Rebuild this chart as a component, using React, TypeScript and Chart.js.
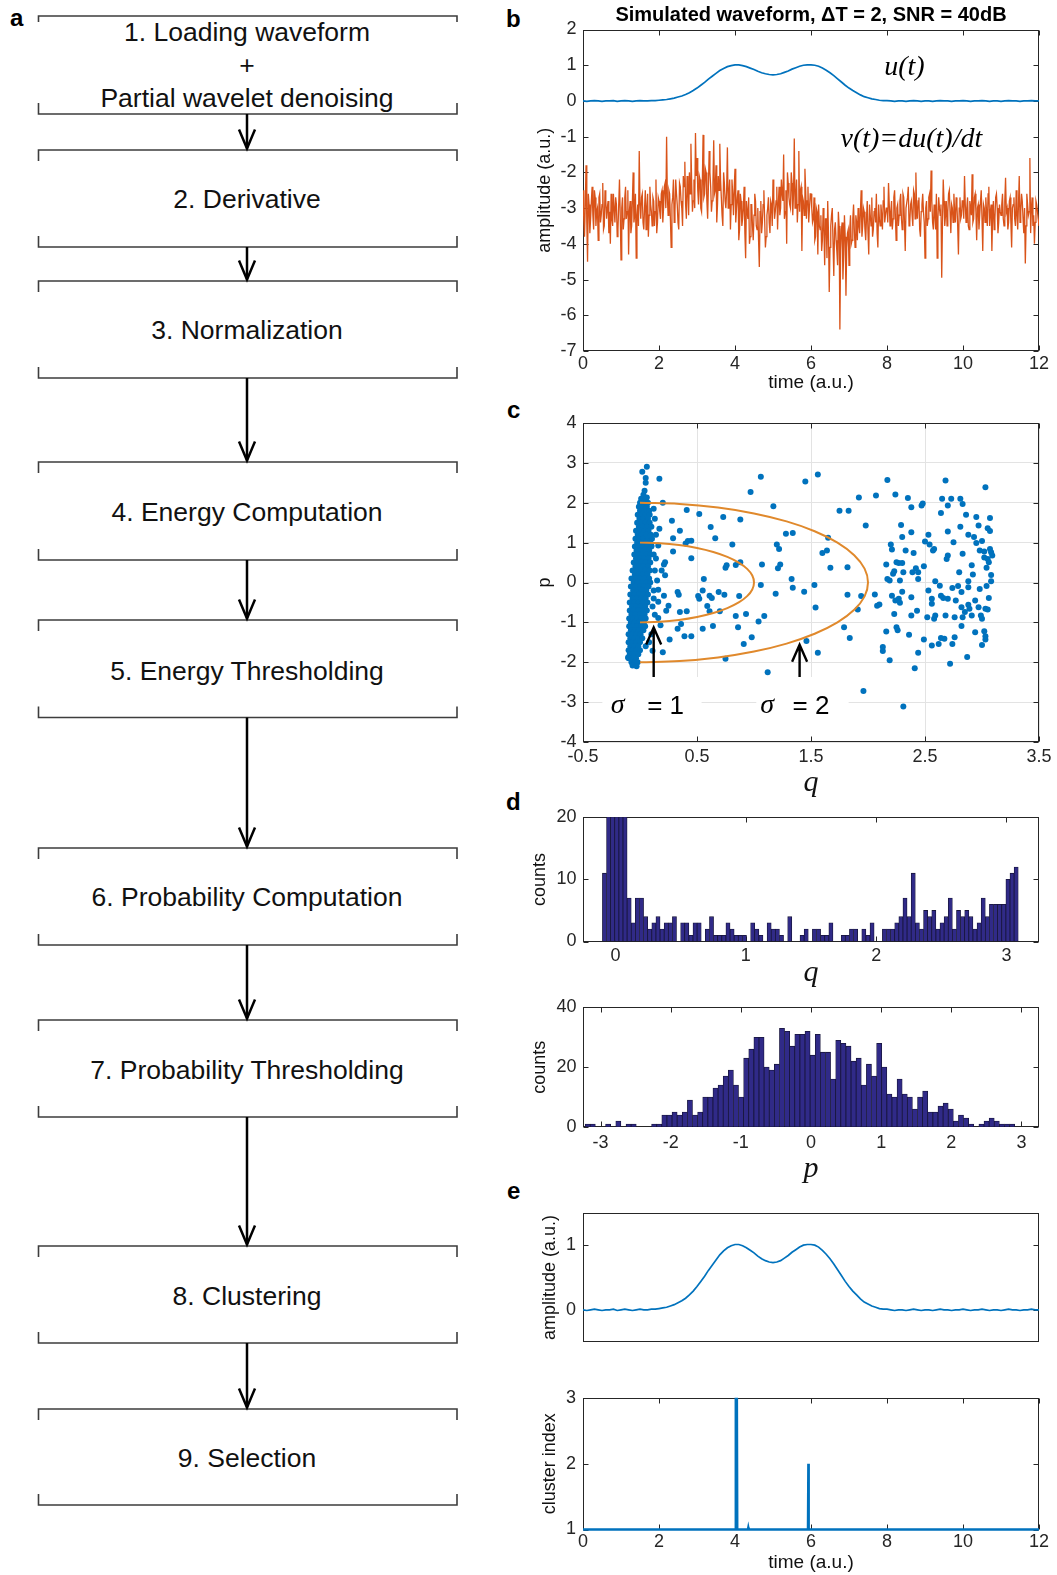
import React, { useEffect, useRef } from 'react';
import { Chart, registerables } from 'chart.js';

Chart.register(...registerables);

const SANS = "'Liberation Sans', Arial, Helvetica, sans-serif";
const SERIF = "'Liberation Serif', 'Times New Roman', serif";
const INK = '#262626';
const BLUE = '#0072BD';
const ORANGE = '#D95319';
const ELLIPSE = '#E0892C';
const BAR_FILL = '#302a88';
const BAR_EDGE = '#17153a';
const TICK_FONT = 18;

// ================= Panel b : waveform u(t) and v(t) =================
const U_DT = 0.1;
const uValues = [
  0.00, -0.01, 0.00, 0.01, 0.00, -0.01, 0.00, 0.00, 0.01, -0.01,
  0.00, 0.01, 0.00, -0.01, 0.00, 0.01, 0.00, 0.00, 0.01, 0.01,
  0.02, 0.03, 0.04, 0.06, 0.08, 0.11, 0.14, 0.18, 0.23, 0.29,
  0.36, 0.44, 0.52, 0.61, 0.69, 0.77, 0.85, 0.91, 0.96, 0.99,
  1.01, 1.01, 0.99, 0.96, 0.92, 0.88, 0.83, 0.79, 0.76, 0.74,
  0.73, 0.74, 0.76, 0.80, 0.84, 0.89, 0.93, 0.97, 1.00, 1.01,
  1.01, 1.00, 0.97, 0.92, 0.86, 0.79, 0.71, 0.62, 0.53, 0.44,
  0.36, 0.29, 0.23, 0.17, 0.12, 0.09, 0.06, 0.04, 0.02, 0.01,
  0.01, 0.00, -0.01, 0.00, 0.00, -0.01, 0.00, 0.01, 0.00, -0.01,
  0.00, 0.00, -0.01, 0.00, 0.01, 0.00, 0.00, -0.01, 0.00, 0.00,
  0.01, 0.00, -0.01, 0.00, 0.00, 0.01, 0.00, -0.01, 0.00, 0.00,
  -0.01, 0.00, 0.01, 0.00, 0.00, -0.01, 0.00, 0.00, 0.01, 0.00,
  0.00,
];

// v(t) samples: even samples at t = 0, 0.04, ... 12 and odd samples at t = 0.02, 0.06, ... 11.98
const V_DT = 0.04;
const vEven = [
  -2.5, -3.8, -1.8, -4.5, -2.9, -3.3, -2.4, -3.6, -2.7, -3.1, -3.9, -2.6, -3.2, -2.3, -3.5, -2.8, -3.0, -3.7, -4.0, -3.3, -2.6, -3.4, -2.9, -3.6, -2.2,
  -4.45, -2.7, -3.3, -2.4, -3.1, -4.3, -2.8, -3.5, -2.0, -3.2, -4.4, -2.9, -1.4, -3.3, -2.6, -3.6, -2.5, -3.0, -3.8, -2.4, -3.1, -2.7, -3.5, -2.2, -3.4,
  -2.8, -3.3, -2.5, -3.0, -2.3, -1.0, -3.2, -2.6, -4.1, -2.7, -3.4, -2.2, -2.9, -3.6, -2.4, -3.0, -2.1, -1.7, -3.3, -2.5, -2.0, -1.2, -3.1, -2.2, -0.9,
  -1.6, -2.9, -2.2, -3.1, -0.95, -2.6, -2.0, -3.3, -1.4, -2.4, -2.8, -1.1, -2.5, -3.4, -2.1, -1.2, -2.7, -3.5, -2.3, -3.0, -1.3, -2.6, -3.6, -2.2, -3.2,
  -1.9, -3.0, -2.5, -3.6, -2.8, -3.3, -2.4, -4.4, -3.1, -2.7, -3.8, -2.9, -3.9, -2.6, -3.5, -3.0, -4.65, -2.8, -3.4, -2.5, -4.1, -3.2, -2.7, -3.7, -2.9,
  -2.2, -3.3, -2.8, -3.6, -2.4, -3.0, -2.6, -1.5, -3.1, -4.0, -2.3, -2.9, -2.0, -3.2, -1.05, -2.7, -3.4, -1.4, -2.5, -4.2, -2.8, -1.9, -3.3, -2.4, -3.0,
  -2.6, -3.4, -2.7, -3.8, -3.1, -2.9, -3.6, -4.2, -3.0, -4.6, -3.3, -2.8, -5.35, -3.5, -3.0, -4.9, -3.4, -4.2, -3.1, -6.4, -3.6, -5.0, -3.2, -5.45, -3.7,
  -4.6, -3.2, -3.9, -2.9, -4.1, -3.4, -3.0, -3.7, -2.5, -3.5, -3.1, -3.9, -2.8, -4.3, -3.2, -2.7, -3.6, -3.0, -2.6, -4.1, -3.3, -2.9, -3.6, -2.4, -3.2,
  -3.0, -2.3, -3.5, -2.8, -3.3, -2.5, -3.9, -2.9, -3.2, -2.6, -3.6, -2.7, -4.2, -3.0, -2.4, -3.4, -2.8, -3.5, -2.6, -2.0, -3.3, -2.7, -3.8, -2.9, -3.1,
  -4.4, -2.8, -3.3, -2.6, -1.95, -3.4, -2.9, -3.6, -4.4, -2.7, -3.2, -4.95, -2.2, -3.5, -2.8, -3.1, -2.5, -3.7, -3.0, -2.6, -3.4, -2.9, -4.3, -2.7, -3.2,
  -2.8, -2.1, -3.4, -2.7, -3.6, -3.0, -2.05, -3.3, -2.6, -3.9, -2.9, -3.2, -2.5, -4.2, -3.0, -2.7, -3.5, -2.4, -3.1, -4.2, -2.8, -3.3, -2.6, -3.7, -2.9,
  -3.2, -2.6, -3.5, -2.15, -3.0, -3.4, -2.7, -4.1, -2.9, -3.3, -2.5, -3.6, -2.1, -3.1, -2.8, -3.7, -4.55, -2.6, -3.2, -1.6, -3.0, -3.5, -4.0, -2.8, -3.1, -3.5,
];
const vOdd = [
  -3.3, -2.9, -3.4, -2.6, -3.7, -2.8, -3.2, -2.5, -3.5, -3.0, -2.7, -3.4, -2.9, -3.6, -2.5, -3.3, -2.8, -3.1, -2.6, -3.5, -3.0, -2.7, -3.8, -2.9, -3.2,
  -3.0, -3.6, -2.7, -3.3, -2.5, -3.1, -3.7, -2.8, -3.4, -2.6, -3.2, -3.5, -2.9, -2.7, -3.4, -3.0, -3.6, -2.6, -3.2, -2.9, -3.5, -2.8, -3.1, -3.7, -2.7,
  -3.1, -2.6, -3.4, -2.4, -3.0, -2.7, -2.5, -3.3, -2.9, -2.2, -3.1, -2.6, -3.4, -2.3, -2.8, -3.5, -2.4, -2.9, -2.1, -3.2, -2.6, -2.3, -2.8, -3.0, -2.1,
  -2.5, -2.1, -3.0, -2.3, -2.7, -1.9, -2.8, -2.4, -2.0, -3.1, -2.3, -2.6, -1.8, -2.9, -2.5, -2.2, -3.2, -2.0, -2.8, -2.5, -3.0, -2.2, -2.9, -2.6, -2.4,
  -3.4, -2.7, -3.9, -2.6, -3.5, -3.0, -3.7, -2.8, -3.3, -4.0, -2.9, -3.5, -3.2, -2.8, -3.6, -3.9, -3.1, -3.7, -2.9, -3.3, -3.8, -3.0, -3.4, -2.8, -3.5,
  -2.7, -3.1, -2.4, -2.9, -3.2, -2.2, -2.8, -3.3, -2.5, -2.0, -2.7, -3.0, -2.3, -2.6, -3.0, -2.2, -2.9, -3.1, -2.4, -2.7, -3.2, -2.5, -2.8, -3.4, -2.6,
  -3.0, -3.3, -3.9, -3.0, -4.3, -3.5, -3.2, -3.9, -3.6, -3.3, -4.4, -3.7, -4.1, -3.2, -4.0, -3.6, -3.9, -4.6, -3.5, -4.2, -3.4, -4.3, -3.8, -4.1, -3.6,
  -3.6, -4.0, -3.3, -3.6, -3.2, -3.9, -3.5, -3.1, -3.8, -3.0, -3.6, -3.3, -3.7, -2.9, -3.5, -3.8, -3.1, -3.4, -3.7, -2.9, -3.5, -3.2, -2.8, -3.4, -3.0,
  -3.4, -2.9, -3.1, -3.6, -2.7, -3.2, -3.0, -3.5, -2.8, -3.3, -2.6, -3.4, -3.0, -2.7, -3.5, -2.9, -3.2, -2.5, -3.3, -3.0, -2.8, -3.6, -3.1, -2.6, -3.4,
  -3.0, -3.5, -2.7, -3.1, -2.8, -3.6, -3.2, -2.6, -3.3, -3.0, -2.9, -3.4, -2.8, -3.2, -3.5, -2.6, -3.1, -2.9, -3.4, -3.1, -2.7, -3.5, -3.0, -3.3, -2.8,
  -3.3, -2.9, -3.0, -3.5, -2.8, -3.2, -3.4, -2.7, -3.1, -3.0, -3.6, -2.8, -3.3, -2.9, -3.4, -3.1, -2.6, -3.5, -2.9, -3.2, -3.6, -2.7, -3.0, -3.4, -3.1,
  -2.9, -3.3, -2.8, -3.1, -3.6, -2.8, -3.4, -3.0, -2.7, -3.5, -3.2, -2.9, -3.4, -2.6, -3.3, -3.0, -3.5, -2.9, -3.1, -3.7, -2.7, -3.2, -3.4, -2.9, -3.3,
];

const bLabels = [
  { text: 'u(t)', t: 8.46, v: 0.94 },
  { text: 'v(t)=du(t)/dt', t: 8.64, v: -1.08 },
];
const bXTicks = [0, 2, 4, 6, 8, 10, 12];
const bYTicks = [-7, -6, -5, -4, -3, -2, -1, 0, 1, 2];

// ================= Panel c : phase space scatter =================
const denseRowP = [
  2.1, 2.0, 1.9, 1.8, 1.7, 1.6, 1.5, 1.4, 1.3, 1.2, 1.1, 1.0, 0.9, 0.8, 0.7, 0.6, 0.5, 0.4, 0.3, 0.2, 0.1,
  0.0, -0.1, -0.2, -0.3, -0.4, -0.5, -0.6, -0.7, -0.8, -0.9, -1.0, -1.1, -1.2, -1.3, -1.4, -1.5, -1.6, -1.7, -1.8, -1.9, -2.0,
];
const denseRowQ = [
  [0.01, 0.05], [0.0, 0.035, 0.07], [-0.01, 0.025, 0.06], [0.0, 0.04, 0.08], [-0.02, 0.015, 0.05, 0.085],
  [-0.005, 0.03, 0.07], [-0.025, 0.01, 0.045, 0.085], [-0.01, 0.025, 0.065, 0.1], [-0.035, 0.0, 0.04, 0.075],
  [-0.02, 0.015, 0.055, 0.095], [-0.04, -0.005, 0.03, 0.07, 0.105], [-0.025, 0.01, 0.05, 0.09],
  [-0.045, -0.01, 0.025, 0.065, 0.1], [-0.03, 0.005, 0.04, 0.08], [-0.05, -0.015, 0.02, 0.06, 0.095],
  [-0.035, 0.0, 0.035, 0.075], [-0.055, -0.02, 0.015, 0.05, 0.09], [-0.04, -0.005, 0.03, 0.07],
  [-0.065, -0.025, 0.01, 0.045, 0.085], [-0.045, -0.01, 0.025, 0.065], [-0.075, -0.035, 0.0, 0.04, 0.08],
  [-0.055, -0.02, 0.02, 0.06, 0.09], [-0.08, -0.04, 0.0, 0.035, 0.075], [-0.06, -0.025, 0.015, 0.055],
  [-0.085, -0.045, -0.005, 0.03, 0.07], [-0.065, -0.03, 0.01, 0.05], [-0.09, -0.05, -0.01, 0.025, 0.065],
  [-0.07, -0.035, 0.005, 0.045], [-0.09, -0.055, -0.015, 0.02, 0.06], [-0.075, -0.04, 0.0, 0.04],
  [-0.095, -0.06, -0.02, 0.015, 0.05], [-0.08, -0.045, -0.005, 0.035], [-0.095, -0.06, -0.025, 0.01, 0.045],
  [-0.08, -0.045, -0.01, 0.03], [-0.1, -0.065, -0.03, 0.005], [-0.085, -0.05, -0.015, 0.02],
  [-0.1, -0.065, -0.03, 0.0], [-0.085, -0.05, -0.015], [-0.1, -0.065, -0.03, 0.0], [-0.09, -0.05, -0.015],
  [-0.1, -0.07, -0.035], [-0.075, -0.045, -0.02],
];
const denseExtra = [
  [-0.065, -2.08], [-0.03, -2.1], [0.06, 2.9], [0.02, 2.78], [0.05, 2.62], [0.05, 2.5], [0.03, 2.2],
  [0.06, 2.13], [0.04, 2.3], [0.12, 1.85], [0.13, 1.6], [0.14, 1.2], [0.12, 0.7], [0.13, 0.3],
  [0.12, -0.2], [0.11, -0.6], [0.1, -1.3], [0.05, -1.6], [0.08, -1.5], [-0.105, -1.88],
];
const spreadPoints = [
  [0.17, 2.60], [0.20, 2.00], [0.41, 1.82], [0.28, 1.55], [0.35, 1.30], [0.29, 1.11], [0.40, 0.98], [0.42, 1.04],
  [0.45, 1.05], [0.29, 0.78], [0.45, 0.61], [0.22, 0.51], [0.21, 0.45], [0.19, 0.30], [0.22, 0.18], [0.16, -0.18],
  [0.21, -0.33], [0.16, -0.48], [0.25, -0.58], [0.23, -0.71], [0.33, -0.24], [0.34, -0.31], [0.35, -0.74], [0.41, -0.72],
  [0.13, -0.81], [0.16, -0.89], [0.18, -1.07], [0.33, -1.16], [0.36, -1.04], [0.26, -1.43], [0.39, -1.35], [0.45, -1.35],
  [0.11, -1.71], [0.20, -1.75], [0.10, 0.93], [0.16, 0.93], [0.14, 0.60], [0.15, 0.05], [0.12, -0.40], [0.17, 1.35],
  [0.52, 1.72], [0.62, 1.39], [0.66, 1.11], [0.73, 1.64], [0.88, 1.58], [0.81, 0.95], [0.75, 0.37], [0.76, 0.43],
  [0.84, 0.44], [0.88, 0.51], [0.56, 0.09], [0.51, -0.34], [0.52, -0.41], [0.55, -0.20], [0.61, -0.33], [0.63, -0.39],
  [0.59, -0.59], [0.69, -0.24], [0.74, -0.31], [0.87, -0.34], [0.61, -0.72], [0.70, -0.72], [0.55, -1.16], [0.64, -1.09],
  [0.84, -0.84], [0.86, -1.12], [0.91, -1.54], [0.75, -1.91], [0.93, -0.79],
  [0.97, 2.27], [1.06, 2.65], [1.17, 1.91], [1.07, 0.45], [1.06, -0.06], [0.98, -1.37], [1.04, -0.98], [1.09, -0.84],
  [1.19, -0.28], [1.20, 0.95], [1.22, 0.84], [1.21, 0.36], [1.23, 0.45], [1.28, 1.22], [1.34, 1.24], [1.33, 0.09],
  [1.34, -0.13], [1.44, -0.23], [1.12, -2.25], [1.46, -1.47],
  [1.45, 2.53], [1.56, 2.71], [1.53, -0.06], [1.54, -0.63], [1.56, -1.76], [1.60, 0.74], [1.64, 0.80], [1.65, 1.12],
  [1.67, 0.37], [1.75, 1.80], [1.83, 1.80], [1.82, 0.38], [1.82, -0.31], [1.79, -1.12], [1.84, -1.39], [1.92, 2.13],
  [1.98, 1.43], [1.94, -0.34], [1.91, -0.68], [1.96, -2.72], [2.06, -0.30],
  [2.07, 2.18], [2.17, 2.57], [2.24, 2.21], [2.08, -0.58], [2.10, -0.55], [2.16, 0.45], [2.17, 0.09], [2.20, 0.95],
  [2.21, 0.83], [2.19, 0.05], [2.22, 0.22], [2.23, 0.28], [2.25, 0.51], [2.27, 0.49], [2.30, 0.49], [2.31, 0.26],
  [2.28, 0.05], [2.29, 1.44], [2.30, 1.14], [2.21, -0.33], [2.24, -0.45], [2.27, -0.41], [2.30, -0.23], [2.28, -0.51],
  [2.23, -0.79], [2.16, -1.23], [2.25, -1.12], [2.26, -1.20], [2.13, -1.62], [2.13, -1.72], [2.19, -1.95], [2.31, -3.11],
  [2.35, 2.12], [2.38, 1.89], [2.33, 0.80], [2.38, 1.26], [2.40, 0.74], [2.42, 0.36], [2.39, 0.26], [2.44, 0.26],
  [2.44, 0.09], [2.38, -0.37], [2.38, -0.83], [2.43, -0.71], [2.36, -1.31], [2.41, -2.15], [2.44, -1.76], [2.49, 0.41],
  [2.49, -1.43],
  [2.47, 1.93], [2.48, 1.98], [2.50, 1.03], [2.53, 1.20], [2.54, 0.95], [2.57, 0.80], [2.58, 0.84], [2.59, 0.03],
  [2.53, -0.20], [2.56, -0.41], [2.56, -0.53], [2.52, -0.87], [2.58, -0.91], [2.59, -0.83], [2.56, -1.58], [2.62, -1.54],
  [2.64, -0.33], [2.66, -0.39], [2.64, 1.74], [2.65, 2.10], [2.68, 2.56], [2.70, 1.93], [2.70, 1.28], [2.68, -0.83],
  [2.70, -0.41], [2.64, -1.39], [2.67, -1.41], [2.72, -2.04], [2.73, 2.10], [2.70, 0.68], [2.69, 0.59], [2.74, -0.14],
  [2.75, 1.01], [2.74, -1.54], [2.76, -1.37], [2.77, -0.45], [2.79, -0.09], [2.81, 2.10], [2.81, 1.40], [2.82, -0.24],
  [2.82, -0.62], [2.83, 1.97], [2.83, 0.72], [2.82, -1.09], [2.83, -0.87], [2.85, -0.74], [2.86, 1.70], [2.88, 1.20],
  [2.88, 0.03], [2.87, -1.87], [2.88, -0.56], [2.89, -0.66], [2.91, 0.43], [2.92, 0.20], [2.93, 1.14], [2.94, -0.45],
  [2.91, -0.83], [2.95, 1.64], [2.95, 0.99], [2.97, 1.43], [2.98, -0.16], [2.97, -0.62], [2.99, -0.83], [3.00, -0.91],
  [3.02, -1.22], [3.03, -1.35], [3.00, -1.57], [3.00, 1.04], [3.02, 0.63], [3.03, 2.39], [3.04, 0.37], [3.05, 1.36],
  [3.05, 0.59], [3.07, 1.62], [3.07, 1.29], [3.06, 0.51], [3.07, 0.84], [3.08, 0.19], [3.08, 0.03], [3.04, -0.09],
  [3.06, -0.39], [3.03, -0.66], [3.05, -0.68], [3.03, -1.43], [3.08, 0.76], [3.09, 0.68], [2.98, 0.80], [3.02, 0.78],
  [2.94, -1.25], [2.88, -0.12], [2.80, 0.26], [2.76, -0.87], [2.63, -0.08],
];
const sigma1Curve = [
  [0, 1], [0.174, 0.985], [0.342, 0.94], [0.5, 0.866], [0.643, 0.766], [0.766, 0.643], [0.866, 0.5], [0.94, 0.342],
  [0.985, 0.174], [1, 0], [0.985, -0.174], [0.94, -0.342], [0.866, -0.5], [0.766, -0.643], [0.643, -0.766],
  [0.5, -0.866], [0.342, -0.94], [0.174, -0.985], [0, -1],
];
const sigma2Curve = [
  [0, 2], [0.347, 1.97], [0.684, 1.879], [1, 1.732], [1.286, 1.532], [1.532, 1.286], [1.732, 1], [1.879, 0.684],
  [1.97, 0.347], [2, 0], [1.97, -0.347], [1.879, -0.684], [1.732, -1], [1.532, -1.286], [1.286, -1.532],
  [1, -1.732], [0.684, -1.879], [0.347, -1.97], [0, -2],
];
const cArrows = [
  { q: 0.12, from: -2.37, to: -1.13 },
  { q: 1.40, from: -2.37, to: -1.56 },
];
const cLabelBoxes = [
  { q0: -0.33, q1: 0.54, p0: -4, p1: -2.37 },
  { q0: 1.02, q1: 1.83, p0: -4, p1: -2.37 },
];
const cSigmaLabels = [
  { sym: 'σ', symQ: -0.195, eq: '= 1', eqQ: 0.225 },
  { sym: 'σ', symQ: 1.115, eq: '= 2', eqQ: 1.5 },
];
const cXTicks = [-0.5, 0.5, 1.5, 2.5, 3.5];
const cYTicks = [-4, -3, -2, -1, 0, 1, 2, 3, 4];

// ================= Panel d : histograms =================
const qBinStart = -0.101;
const qBinWidth = 0.0316;
const qCounts = [
  11, 60, 150, 200, 160, 70, 7, 3, 7, 7,
  4, 2, 3, 4, 2, 3, 3, 4, 0, 3,
  3, 1, 3, 3, 0, 2, 4, 1, 1, 1,
  3, 2, 1, 1, 1, 0, 3, 2, 1, 0,
  3, 2, 2, 1, 0, 4, 0, 0, 1, 2,
  0, 2, 2, 1, 1, 3, 0, 0, 1, 1,
  2, 2, 0, 2, 1, 3, 0, 0, 2, 2,
  2, 3, 4, 7, 4, 11, 3, 2, 5, 4,
  5, 2, 3, 4, 7, 2, 5, 4, 5, 4,
  2, 3, 7, 4, 6, 6, 6, 6, 10, 11, 12,
];
const pBinStart = -3.22;
const pBinWidth = 0.0729;
const pCounts = [
  1, 1, 0, 0, 1, 0, 2, 0, 1, 1,
  0, 0, 0, 1, 1, 4, 4, 5, 4, 5,
  9, 4, 5, 10, 10, 13, 14, 17, 19, 14,
  10, 23, 26, 30, 30, 20, 19, 21, 33, 32,
  27, 31, 31, 32, 24, 31, 25, 25, 16, 29,
  28, 27, 22, 23, 14, 21, 17, 28, 20, 11,
  10, 16, 11, 10, 6, 10, 12, 5, 5, 7,
  8, 6, 2, 4, 3, 1, 0, 1, 2, 3,
  2, 1, 1, 1,
];
const dqXTicks = [0, 1, 2, 3];
const dqYTicks = [0, 10, 20];
const dpXTicks = [-3, -2, -1, 0, 1, 2, 3];
const dpYTicks = [0, 20, 40];

// ================= Panel e : waveform & cluster index =================
const clusterTimes = [0, 4.01, 4.02, 4.03, 4.05, 4.06, 4.07, 4.34, 4.35, 4.36, 5.58, 5.59, 5.6, 5.92, 5.93, 5.94, 12];
const clusterIndex = [1, 1, 3, 1, 3, 1, 1, 1, 1.03, 1, 1, 1.02, 1, 1, 2, 1, 1];
const e1YTicks = [0, 1];
const e2XTicks = [0, 2, 4, 6, 8, 10, 12];
const e2YTicks = [1, 2, 3];

// ================= Panel a : flowchart =================
const steps = [
  { lines: ['1. Loading waveform', '+', 'Partial wavelet denoising'], baselines: [41, 74, 106.5], top: 16, bottom: 114 },
  { lines: ['2. Derivative'], baselines: [207.5], top: 150, bottom: 247 },
  { lines: ['3. Normalization'], baselines: [338.5], top: 281, bottom: 378 },
  { lines: ['4. Energy Computation'], baselines: [521], top: 462, bottom: 560 },
  { lines: ['5. Energy Thresholding'], baselines: [679.5], top: 620, bottom: 717.5 },
  { lines: ['6. Probability Computation'], baselines: [906], top: 848, bottom: 945 },
  { lines: ['7. Probability Thresholding'], baselines: [1079], top: 1020, bottom: 1117 },
  { lines: ['8. Clustering'], baselines: [1304.5], top: 1246, bottom: 1343 },
  { lines: ['9. Selection'], baselines: [1466.5], top: 1409, bottom: 1505 },
];
const panelLetters = [
  { t: 'a', x: 10, y: 25.5 },
  { t: 'b', x: 506, y: 27 },
  { t: 'c', x: 507, y: 418 },
  { t: 'd', x: 506, y: 810 },
  { t: 'e', x: 507, y: 1199 },
];

// ================= layout helpers =================
const CANVAS_LEFT = 520;
const CANVAS_W = 537;
const Y_AXIS_W = 63;
const PAD_RIGHT = 18;
const TICK = 5;

function scaleCfg(axis: 'x' | 'y', s: any) {
  return {
    type: 'linear',
    position: axis === 'x' ? 'bottom' : 'left',
    min: s.min,
    max: s.max,
    offset: false,
    afterBuildTicks: (sc: any) => {
      sc.ticks = s.ticks.map((v: number) => ({ value: v }));
    },
    afterFit: (sc: any) => {
      if (axis === 'x') sc.height = s.size;
      else sc.width = s.size;
    },
    ticks: {
      display: s.showLabels !== false,
      padding: s.tickPad,
      autoSkip: false,
      maxRotation: 0,
      minRotation: 0,
      color: INK,
      font: { family: SANS, size: TICK_FONT },
      callback: (v: number) => String(v),
    },
    grid: { display: !!s.grid, drawTicks: false, color: '#e3e3e3', lineWidth: 1, offset: false },
    border: { display: false },
    title: s.title
      ? {
          display: true,
          text: s.title.text,
          color: '#111',
          font: s.title.font,
          padding: { top: s.title.pad, bottom: s.title.pad },
        }
      : { display: false },
  };
}

function baseOptions(padTop: number, x: any, y: any, title?: any) {
  return {
    animation: false,
    responsive: false,
    maintainAspectRatio: false,
    events: [],
    layout: { padding: { top: padTop, right: PAD_RIGHT, bottom: 0, left: 0 } },
    plugins: {
      legend: { display: false },
      tooltip: { enabled: false },
      title: title || { display: false },
    },
    scales: { x, y },
  };
}

function matlabAxes(xTicks: number[], yTicks: number[], extra?: { before?: (c: any) => void; after?: (c: any) => void }) {
  return {
    id: 'matlabAxes',
    beforeDatasetsDraw(chart: any) {
      if (extra && extra.before) extra.before(chart);
      const { ctx, chartArea: a } = chart;
      const xs = chart.scales.x;
      const ys = chart.scales.y;
      const L = Math.round(a.left) + 0.5;
      const R = Math.round(a.right) - 0.5;
      const T = Math.round(a.top) + 0.5;
      const B = Math.round(a.bottom) - 0.5;
      ctx.save();
      ctx.strokeStyle = INK;
      ctx.lineWidth = 1;
      ctx.beginPath();
      for (const v of xTicks) {
        const px = Math.round(xs.getPixelForValue(v)) + 0.5;
        ctx.moveTo(px, B);
        ctx.lineTo(px, B - TICK);
        ctx.moveTo(px, T);
        ctx.lineTo(px, T + TICK);
      }
      for (const v of yTicks) {
        const py = Math.round(ys.getPixelForValue(v)) + 0.5;
        ctx.moveTo(L, py);
        ctx.lineTo(L + TICK, py);
        ctx.moveTo(R, py);
        ctx.lineTo(R - TICK, py);
      }
      ctx.stroke();
      ctx.strokeRect(L, T, R - L, B - T);
      ctx.restore();
    },
    afterDatasetsDraw(chart: any) {
      if (extra && extra.after) extra.after(chart);
    },
  };
}

const toXY = (pairs: number[][]) => pairs.map(([x, y]) => ({ x, y }));

// ================= chart builders =================
function buildB(canvas: HTMLCanvasElement) {
  const uPts = uValues.map((v, i) => ({ x: i * U_DT, y: v }));
  const vPts: { x: number; y: number }[] = [];
  vEven.forEach((v, i) => {
    vPts.push({ x: i * V_DT, y: v });
    if (i < vOdd.length) vPts.push({ x: i * V_DT + V_DT / 2, y: vOdd[i] });
  });
  const x = scaleCfg('x', {
    min: 0, max: 12, ticks: bXTicks, size: 49, tickPad: 2.2,
    title: { text: 'time (a.u.)', font: { family: SANS, size: 19 }, pad: 5.6 },
  });
  const y = scaleCfg('y', {
    min: -7, max: 2, ticks: bYTicks, size: Y_AXIS_W, tickPad: 6.5,
    title: { text: 'amplitude (a.u.)', font: { family: SANS, size: 18 }, pad: 14.2 },
  });
  const title = {
    display: true,
    text: 'Simulated waveform, ΔT = 2, SNR = 40dB',
    color: '#000',
    font: { family: SANS, size: 20, weight: 'bold' },
    padding: { top: 3.5, bottom: 2 },
    fullSize: false,
  };
  return new Chart(canvas, {
    type: 'scatter',
    data: {
      datasets: [
        { data: uPts, showLine: true, borderColor: BLUE, borderWidth: 1.7, pointRadius: 0 },
        { data: vPts, showLine: true, borderColor: ORANGE, borderWidth: 1.3, pointRadius: 0 },
      ],
    },
    options: baseOptions(0, x, y, title) as any,
    plugins: [
      matlabAxes(bXTicks, bYTicks, {
        after: (chart: any) => {
          const { ctx } = chart;
          ctx.save();
          ctx.font = `italic 28px ${SERIF}`;
          ctx.fillStyle = '#000';
          ctx.textAlign = 'center';
          ctx.textBaseline = 'middle';
          for (const l of bLabels) {
            ctx.fillText(l.text, chart.scales.x.getPixelForValue(l.t), chart.scales.y.getPixelForValue(l.v));
          }
          ctx.restore();
        },
      }),
    ],
  } as any);
}

function buildC(canvas: HTMLCanvasElement) {
  const dense: { x: number; y: number }[] = [];
  denseRowP.forEach((p, i) => denseRowQ[i].forEach((q) => dense.push({ x: q, y: p })));
  denseExtra.forEach(([q, p]) => dense.push({ x: q, y: p }));
  const x = scaleCfg('x', {
    min: -0.5, max: 3.5, ticks: cXTicks, size: 63, tickPad: 4.7, grid: true,
    title: { text: 'q', font: { family: SERIF, size: 30, style: 'italic' }, pad: 4 },
  });
  const y = scaleCfg('y', {
    min: -4, max: 4, ticks: cYTicks, size: Y_AXIS_W, tickPad: 6.5, grid: true,
    title: { text: 'p', font: { family: SANS, size: 18 }, pad: 14.2 },
  });
  const pointStyle = { pointRadius: 3, pointBackgroundColor: BLUE, pointBorderColor: BLUE, pointBorderWidth: 0, showLine: false };
  return new Chart(canvas, {
    type: 'scatter',
    data: {
      datasets: [
        { data: toXY(sigma2Curve), showLine: true, borderColor: ELLIPSE, borderWidth: 2, pointRadius: 0, tension: 0.4 },
        { data: toXY(sigma1Curve), showLine: true, borderColor: ELLIPSE, borderWidth: 2, pointRadius: 0, tension: 0.4 },
        { data: dense, ...pointStyle },
        { data: toXY(spreadPoints), ...pointStyle },
      ],
    },
    options: baseOptions(23, x, y) as any,
    plugins: [
      matlabAxes(cXTicks, cYTicks, {
        before: (chart: any) => {
          const { ctx } = chart;
          const xs = chart.scales.x;
          const ys = chart.scales.y;
          ctx.save();
          ctx.fillStyle = '#ffffff';
          for (const b of cLabelBoxes) {
            const x0 = xs.getPixelForValue(b.q0);
            const x1 = xs.getPixelForValue(b.q1);
            const y0 = ys.getPixelForValue(b.p1);
            const y1 = ys.getPixelForValue(b.p0);
            ctx.fillRect(x0, y0, x1 - x0, y1 - y0);
          }
          ctx.restore();
        },
        after: (chart: any) => {
          const { ctx } = chart;
          const xs = chart.scales.x;
          const ys = chart.scales.y;
          ctx.save();
          ctx.strokeStyle = '#000';
          ctx.lineWidth = 2.4;
          ctx.lineJoin = 'miter';
          for (const a of cArrows) {
            const px = xs.getPixelForValue(a.q);
            const yb = ys.getPixelForValue(a.from);
            const yt = ys.getPixelForValue(a.to);
            ctx.beginPath();
            ctx.moveTo(px, yb);
            ctx.lineTo(px, yt);
            ctx.moveTo(px - 7.5, yt + 17);
            ctx.lineTo(px, yt);
            ctx.lineTo(px + 7.5, yt + 17);
            ctx.stroke();
          }
          ctx.fillStyle = '#000';
          ctx.textAlign = 'center';
          ctx.textBaseline = 'middle';
          for (const l of cSigmaLabels) {
            ctx.font = `italic 28px ${SERIF}`;
            ctx.fillText(l.sym, xs.getPixelForValue(l.symQ), ys.getPixelForValue(-3.08));
            ctx.font = `26px ${SANS}`;
            ctx.fillText(l.eq, xs.getPixelForValue(l.eqQ), ys.getPixelForValue(-3.13));
          }
          ctx.restore();
        },
      }),
    ],
  } as any);
}

function histChart(canvas: HTMLCanvasElement, counts: number[], start: number, width: number, x: any, y: any, padTop: number, xt: number[], yt: number[]) {
  const pts = counts.map((c, i) => ({ x: start + (i + 0.5) * width, y: c }));
  return new Chart(canvas, {
    type: 'bar',
    data: {
      datasets: [
        {
          data: pts,
          backgroundColor: BAR_FILL,
          borderColor: BAR_EDGE,
          borderWidth: 0.8,
          borderSkipped: false,
          barPercentage: 1,
          categoryPercentage: 1,
        },
      ],
    },
    options: baseOptions(padTop, x, y) as any,
    plugins: [matlabAxes(xt, yt)],
  } as any);
}

function buildD1(canvas: HTMLCanvasElement) {
  const x = scaleCfg('x', {
    min: -0.25, max: 3.25, ticks: dqXTicks, size: 53.5, tickPad: 4.2,
    title: { text: 'q', font: { family: SERIF, size: 30, style: 'italic' }, pad: 4 },
  });
  const y = scaleCfg('y', {
    min: 0, max: 20, ticks: dqYTicks, size: Y_AXIS_W, tickPad: 6.5,
    title: { text: 'counts', font: { family: SANS, size: 18 }, pad: 9.2 },
  });
  return histChart(canvas, qCounts, qBinStart, qBinWidth, x, y, 16, dqXTicks, dqYTicks);
}

function buildD2(canvas: HTMLCanvasElement) {
  const x = scaleCfg('x', {
    min: -3.25, max: 3.25, ticks: dpXTicks, size: 63, tickPad: 5.2,
    title: { text: 'p', font: { family: SERIF, size: 30, style: 'italic' }, pad: 3 },
  });
  const y = scaleCfg('y', {
    min: 0, max: 40, ticks: dpYTicks, size: Y_AXIS_W, tickPad: 6.5,
    title: { text: 'counts', font: { family: SANS, size: 18 }, pad: 9.2 },
  });
  return histChart(canvas, pCounts, pBinStart, pBinWidth, x, y, 12, dpXTicks, dpYTicks);
}

function buildE1(canvas: HTMLCanvasElement) {
  const uPts = uValues.map((v, i) => ({ x: i * U_DT, y: v }));
  const x = scaleCfg('x', { min: 0, max: 12, ticks: e2XTicks, size: 17, tickPad: 3, showLabels: false });
  const y = scaleCfg('y', {
    min: -0.5, max: 1.5, ticks: e1YTicks, size: Y_AXIS_W, tickPad: 7,
    title: { text: 'amplitude (a.u.)', font: { family: SANS, size: 18 }, pad: 19.2 },
  });
  return new Chart(canvas, {
    type: 'scatter',
    data: { datasets: [{ data: uPts, showLine: true, borderColor: BLUE, borderWidth: 1.7, pointRadius: 0 }] },
    options: baseOptions(16.5, x, y) as any,
    plugins: [matlabAxes([], e1YTicks)],
  } as any);
}

function buildE2(canvas: HTMLCanvasElement) {
  const pts = clusterTimes.map((t, i) => ({ x: t, y: clusterIndex[i] }));
  const x = scaleCfg('x', {
    min: 0, max: 12, ticks: e2XTicks, size: 45.5, tickPad: 2.2,
    title: { text: 'time (a.u.)', font: { family: SANS, size: 19 }, pad: 1.1 },
  });
  const y = scaleCfg('y', {
    min: 1, max: 3, ticks: e2YTicks, size: Y_AXIS_W, tickPad: 7,
    title: { text: 'cluster index', font: { family: SANS, size: 18 }, pad: 19.2 },
  });
  return new Chart(canvas, {
    type: 'scatter',
    data: { datasets: [{ data: pts, showLine: true, borderColor: BLUE, borderWidth: 2.4, pointRadius: 0, clip: 3 }] },
    options: baseOptions(16, x, y) as any,
    plugins: [matlabAxes(e2XTicks, e2YTicks)],
  } as any);
}

// ================= components =================
function ChartCanvas({ top, height, build }: { top: number; height: number; build: (c: HTMLCanvasElement) => Chart }) {
  const ref = useRef<HTMLCanvasElement>(null);
  useEffect(() => {
    const chart = build(ref.current as HTMLCanvasElement);
    return () => chart.destroy();
  }, []);
  return (
    <canvas
      ref={ref}
      width={CANVAS_W}
      height={height}
      style={{ position: 'absolute', left: CANVAS_LEFT, top, width: CANVAS_W, height }}
    />
  );
}

function Flowchart() {
  const BX0 = 38.5;
  const BX1 = 457;
  const AX = 247;
  const stroke = '#3d3d3d';
  return (
    <svg width={1057} height={1575} style={{ position: 'absolute', left: 0, top: 0 }}>
      {steps.map((s, i) => {
        const tt = i === 0 ? 6 : 11;
        return (
          <g key={i}>
            <path d={`M${BX0} ${s.top + tt} V${s.top} H${BX1} V${s.top + tt}`} fill="none" stroke={stroke} strokeWidth={1.6} />
            <path d={`M${BX0} ${s.bottom - 11} V${s.bottom} H${BX1} V${s.bottom - 11}`} fill="none" stroke={stroke} strokeWidth={1.6} />
            {s.lines.map((t, j) => (
              <text key={j} x={AX} y={s.baselines[j]} textAnchor="middle" fontFamily={SANS} fontSize={26.5} fill="#111">
                {t}
              </text>
            ))}
          </g>
        );
      })}
      {steps.slice(0, -1).map((s, i) => {
        const tip = steps[i + 1].top - 1.5;
        return (
          <g key={`a${i}`} stroke="#000" strokeWidth={2.5} fill="none">
            <line x1={AX} y1={s.bottom} x2={AX} y2={tip} />
            <polyline points={`${AX - 8},${tip - 19} ${AX},${tip} ${AX + 8},${tip - 19}`} />
          </g>
        );
      })}
      {panelLetters.map((l) => (
        <text key={l.t} x={l.x} y={l.y} fontFamily={SANS} fontWeight="bold" fontSize={24} fill="#000">
          {l.t}
        </text>
      ))}
    </svg>
  );
}

export default function App() {
  return (
    <div style={{ position: 'absolute', left: 0, top: 0, width: 1057, height: 1575, background: '#fff', overflow: 'hidden' }}>
      <Flowchart />
      <ChartCanvas top={0} height={400} build={buildB} />
      <ChartCanvas top={400} height={405} build={buildC} />
      <ChartCanvas top={800} height={195} build={buildD1} />
      <ChartCanvas top={990} height={200} build={buildD2} />
      <ChartCanvas top={1195} height={165} build={buildE1} />
      <ChartCanvas top={1380} height={195} build={buildE2} />
    </div>
  );
}
